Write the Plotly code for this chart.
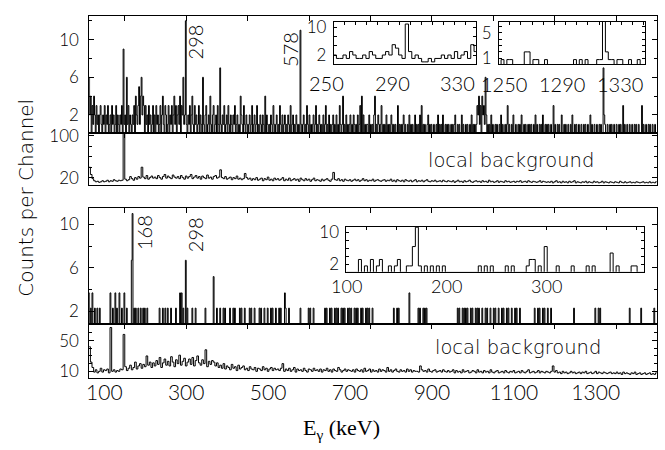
import numpy as np
import plotly.graph_objects as go

W, H = 665, 450
FONT = "Lato"
WORDS = "DejaVu Sans"
SERIF = "Liberation Serif"

# ---------------------------------------------------------------- data
# energy calibration (keV): spectra start energy and bin widths
MAIN_E0 = 62.0
FINE_BIN = 2.0      # singles and gated spectra
BG_BIN = 4.0        # local backgrounds
INS1_E0, INS1_BIN = 254.0, 2.0
INS2_E0, INS2_BIN = 1246.0, 2.0
INS3_E0, INS3_BIN = 100.0, 3.0

# singles spectrum, counts per 2 keV channel from 62 to 1450 keV
singles = [
    6, 2, 4, 0, 3, 1, 4, 2, 0, 3, 1, 2, 0, 2, 3, 1, 0, 2, 1, 3,
    0, 2, 1, 3, 0, 1, 2, 0, 3, 1, 2, 0, 1, 3, 0, 2, 1, 0, 2, 1,
    3, 0, 9, 1, 2, 0, 6, 1, 3, 0, 2, 1, 0, 2, 1, 3, 0, 4, 2, 1,
    3, 5, 1, 4, 6, 2, 4, 3, 0, 3, 1, 2, 0, 3, 1, 2, 0, 1, 3, 0,
    2, 0, 3, 1, 2, 0, 1, 3, 0, 2, 4, 1, 0, 3, 2, 0, 1, 3, 0, 2,
    1, 3, 0, 2, 4, 1, 3, 0, 2, 3, 1, 4, 0, 3, 2, 6, 1, 2, 12, 1,
    0, 2, 1, 3, 0, 2, 4, 1, 0, 3, 1, 2, 0, 1, 3, 0, 2, 1, 0, 6,
    1, 0, 2, 3, 0, 1, 2, 0, 4, 1, 0, 2, 3, 0, 1, 2, 0, 3, 1, 0,
    7, 1, 0, 2, 1, 3, 0, 1, 2, 0, 3, 1, 0, 2, 1, 0, 2, 1, 3, 0,
    1, 2, 0, 1, 0, 4, 2, 1, 0, 3, 1, 0, 2, 1, 0, 1, 2, 0, 1, 3,
    0, 1, 2, 0, 1, 3, 0, 1, 0, 2, 1, 0, 2, 1, 0, 4, 0, 2, 1, 0,
    1, 0, 2, 1, 0, 3, 1, 0, 1, 2, 0, 1, 0, 3, 1, 0, 2, 0, 1, 2,
    0, 1, 0, 2, 1, 0, 3, 0, 1, 2, 0, 1, 0, 2, 1, 0, 1, 0, 11, 1,
    0, 1, 2, 0, 1, 0, 3, 1, 0, 2, 0, 1, 0, 1, 2, 0, 1, 3, 0, 1,
    0, 2, 1, 0, 1, 0, 2, 0, 1, 3, 0, 1, 0, 2, 0, 1, 0, 1, 2, 0,
    1, 0, 2, 0, 1, 0, 3, 1, 0, 1, 4, 0, 1, 0, 2, 0, 1, 0, 1, 2,
    0, 1, 0, 2, 1, 0, 1, 0, 2, 0, 1, 3, 0, 4, 0, 2, 0, 1, 0, 1,
    1, 0, 2, 0, 1, 0, 1, 0, 2, 4, 0, 1, 0, 2, 1, 0, 1, 3, 0, 1,
    0, 1, 0, 2, 0, 1, 0, 1, 0, 2, 1, 0, 1, 0, 1, 0, 0, 3, 0, 1,
    0, 1, 0, 1, 2, 0, 1, 0, 0, 1, 0, 2, 0, 1, 0, 1, 0, 0, 2, 0,
    1, 0, 1, 0, 2, 0, 3, 0, 1, 0, 1, 0, 0, 1, 2, 0, 1, 0, 1, 0,
    0, 1, 0, 0, 1, 0, 2, 0, 1, 0, 1, 0, 2, 0, 0, 1, 0, 1, 0, 1,
    0, 0, 1, 0, 1, 0, 1, 2, 0, 0, 1, 0, 1, 0, 0, 2, 0, 1, 0, 0,
    1, 0, 1, 0, 0, 1, 0, 2, 0, 1, 0, 1, 0, 1, 3, 2, 4, 1, 3, 0,
    4, 2, 3, 1, 6, 2, 0, 1, 0, 1, 0, 2, 0, 1, 0, 0, 1, 0, 1, 0,
    0, 1, 0, 2, 0, 1, 0, 0, 1, 0, 1, 3, 0, 1, 0, 0, 1, 0, 2, 0,
    0, 1, 0, 0, 1, 0, 1, 0, 2, 0, 0, 1, 0, 1, 0, 0, 1, 0, 1, 0,
    1, 0, 0, 1, 0, 2, 0, 1, 0, 0, 1, 0, 1, 0, 2, 0, 0, 1, 0, 1,
    0, 1, 0, 0, 1, 0, 0, 3, 0, 1, 0, 0, 1, 0, 1, 0, 0, 2, 0, 0,
    1, 0, 1, 0, 0, 1, 0, 0, 1, 0, 2, 0, 0, 1, 0, 1, 0, 0, 1, 0,
    0, 1, 0, 0, 1, 0, 1, 0, 0, 1, 0, 0, 2, 0, 1, 0, 0, 1, 0, 0,
    1, 0, 0, 1, 0, 1, 0, 0, 7, 2, 1, 0, 0, 1, 0, 0, 1, 0, 1, 0,
    0, 1, 0, 0, 1, 0, 0, 1, 0, 1, 0, 0, 3, 0, 1, 0, 0, 1, 0, 0,
    1, 0, 0, 1, 0, 0, 1, 0, 1, 0, 0, 1, 0, 0, 0, 3, 0, 1, 0, 0,
    1, 0, 0, 1, 0, 1, 0, 0, 1, 0, 0, 1, 0, 0,
]

# gated spectrum: occupied 2 keV channels (start energy, keV) and their counts
gated_keV = [
    62, 66, 70, 76, 82, 88, 114, 120, 126, 130, 136,
    142, 148, 154, 166, 168, 172, 176, 182, 188, 194, 198, 204,
    234, 242, 248, 254, 262, 274, 284, 288, 292, 298,
    302, 314, 322, 346, 366, 374,
    382, 390, 394, 406, 414, 418, 430, 434, 442, 454, 458,
    466, 478, 482, 490, 498, 506, 510, 518, 526, 530, 540,
    542, 550, 578, 598, 602, 610,
    638, 642, 650, 654, 662, 666, 670, 678, 682, 686, 694, 698,
    702, 710, 714, 718, 726, 730, 738, 742, 746, 754,
    806, 814, 818, 844,
    866, 870, 878, 882, 886,
    962, 966, 974, 978, 982, 986, 994, 998, 1006, 1010, 1014,
    1022, 1030, 1034, 1042, 1050, 1054, 1062, 1070, 1074, 1082, 1086, 1094,
    1102, 1106, 1114, 1150, 1158, 1162, 1170, 1174,
    1182, 1190, 1246,
    1298, 1306, 1310,
    1382, 1410,
    1442,
]
gated_counts = [
    3.7, 2.3, 3.7, 2.3, 2.3, 2.3, 3.7, 2.3, 3.7, 2.3, 3.7,
    2.3, 3.7, 2.3, 6.7, 11.0, 2.3, 2.3, 2.3, 2.3, 2.3, 2.3, 2.3,
    2.3, 2.3, 2.3, 2.3, 2.3, 2.3, 3.7, 3.7, 2.3, 6.7,
    2.3, 2.3, 2.3, 2.3, 5.2, 2.3,
    2.3, 2.3, 2.3, 2.3, 2.3, 2.3, 2.3, 2.3, 2.3, 2.3, 2.3,
    2.3, 2.3, 2.3, 2.3, 2.3, 2.3, 2.3, 2.3, 2.3, 2.3, 3.7,
    2.3, 2.3, 2.3, 2.3, 2.3, 2.3,
    2.3, 2.3, 2.3, 2.3, 2.3, 2.3, 2.3, 2.3, 2.3, 2.3, 2.3, 2.3,
    2.3, 2.3, 2.3, 2.3, 2.3, 2.3, 2.3, 2.3, 2.3, 2.3,
    2.3, 2.3, 2.3, 3.7,
    2.3, 2.3, 2.3, 2.3, 2.3,
    2.3, 2.3, 2.3, 2.3, 2.3, 2.3, 2.3, 2.3, 2.3, 2.3, 2.3,
    2.3, 2.3, 2.3, 2.3, 2.3, 2.3, 2.3, 2.3, 2.3, 2.3, 2.3, 2.3,
    2.3, 2.3, 2.3, 2.3, 2.3, 2.3, 2.3, 2.3,
    2.3, 2.3, 2.3,
    2.3, 2.3, 2.3,
    2.3, 2.3,
    2.3,
]

# local background under the singles spectrum (per 4 keV)
singles_bg = [
    40, 26, 18, 14, 12, 13, 11, 12, 14, 12, 13, 15, 12, 14, 13, 16, 14, 13, 15, 14,
    15, 110, 17, 14, 16, 22, 18, 15, 20, 17, 22, 19, 40, 21, 18, 24, 17, 20, 23, 19,
    21, 18, 24, 20, 17, 22, 26, 19, 23, 20, 18, 25, 21, 19, 22, 18, 24, 20, 17, 23,
    19, 22, 26, 18, 21, 24, 19, 22, 17, 23, 20, 18, 25, 19, 21, 17, 22, 24, 19, 21,
    35, 20, 18, 22, 17, 19, 21, 16, 20, 18, 23, 17, 19, 16, 18, 28, 20, 17, 19, 15,
    18, 16, 20, 15, 17, 19, 14, 18, 16, 21, 15, 17, 14, 19, 16, 18, 15, 17, 20, 14,
    17, 15, 19, 14, 16, 18, 15, 17, 13, 19, 16, 14, 18, 15, 17, 13, 16, 19, 14, 16,
    15, 13, 17, 14, 16, 18, 15, 13, 17, 30, 16, 15, 18, 14, 16, 13, 17, 15, 14, 16,
    13, 15, 17, 14, 16, 13, 15, 18, 14, 16, 13, 15, 14, 17, 13, 15, 16, 14, 13, 15,
    16, 13, 15, 14, 17, 13, 15, 12, 16, 14, 13, 15, 12, 16, 14, 13, 15, 12, 14, 16,
    12, 14, 13, 15, 12, 14, 16, 13, 12, 14, 13, 15, 12, 13, 14, 12, 15, 13, 12, 14,
    13, 12, 14, 11, 13, 15, 12, 13, 11, 14, 12, 13, 15, 12, 11, 13, 14, 12, 13, 11,
    14, 12, 13, 11, 15, 12, 13, 11, 12, 14, 11, 13, 12, 11, 14, 12, 13, 11, 12, 13,
    11, 13, 12, 14, 11, 12, 13, 11, 14, 12, 11, 13, 12, 11, 12, 14, 11, 13, 12, 11,
    12, 11, 13, 10, 12, 14, 11, 12, 10, 13, 11, 12, 10, 13, 11, 12, 14, 10, 12, 11,
    10, 12, 11, 13, 10, 12, 11, 10, 13, 11, 12, 10, 11, 13, 10, 12, 11, 10, 12, 11,
    10, 12, 11, 10, 13, 11, 10, 12, 10, 11, 12, 10, 11, 10, 12, 11, 10, 11, 12, 10,
    11, 10, 12, 10, 11, 10, 12,
]

# local background under the gated spectrum (per 4 keV)
gated_bg = [
    42, 22, 15, 9, 12, 8, 10, 14, 9, 12, 11, 13, 8, 67, 10, 12, 9, 11, 10, 13,
    12, 58, 16, 11, 14, 18, 12, 15, 22, 13, 17, 20, 14, 19, 16, 30, 18, 22, 15, 21,
    17, 24, 19, 28, 15, 21, 26, 18, 23, 17, 29, 22, 16, 25, 20, 31, 18, 23, 27, 17,
    22, 26, 19, 28, 17, 24, 30, 21, 18, 25, 20, 38, 16, 23, 19, 24, 22, 17, 21, 15,
    18, 14, 20, 13, 17, 15, 12, 19, 14, 16, 11, 18, 13, 15, 17, 12, 14, 11, 16, 13,
    12, 15, 10, 14, 13, 11, 16, 12, 14, 10, 13, 15, 11, 14, 12, 13, 11, 14, 20, 10,
    13, 11, 14, 10, 12, 15, 9, 13, 11, 12, 10, 14, 11, 9, 13, 12, 10, 14, 11, 12,
    10, 13, 9, 12, 11, 14, 10, 12, 9, 13, 11, 10, 15, 12, 9, 11, 13, 10, 12, 11,
    10, 12, 9, 13, 11, 10, 12, 9, 14, 10, 11, 13, 9, 12, 10, 11, 9, 13, 10, 12,
    11, 9, 15, 10, 12, 9, 11, 13, 10, 9, 12, 10, 11, 9, 13, 10, 12, 9, 11, 10,
    10, 9, 17, 12, 10, 11, 9, 13, 10, 9, 11, 12, 9, 10, 11, 9, 12, 10, 9, 11,
    9, 10, 12, 8, 11, 9, 10, 8, 12, 9, 10, 11, 8, 9, 11, 10, 8, 12, 9, 10,
    8, 11, 9, 10, 8, 12, 9, 8, 10, 11, 8, 9, 10, 8, 11, 9, 8, 10, 9, 11,
    8, 9, 10, 8, 11, 9, 8, 10, 12, 8, 9, 10, 8, 9, 11, 8, 10, 9, 8, 10,
    9, 8, 10, 17, 9, 11, 8, 9, 7, 10, 8, 9, 7, 8, 10, 8, 9, 7, 8, 9,
    7, 9, 8, 10, 7, 8, 9, 7, 8, 10, 7, 9, 8, 7, 9, 8, 7, 8, 9, 7,
    8, 7, 9, 7, 8, 6, 9, 7, 8, 7, 6, 8, 7, 9, 6, 7, 8, 6, 7, 8,
    6, 7, 8, 6, 7, 6, 8,
]

# expanded views (2 keV bins around 298 keV and 1320 keV, 3 keV bins of the gate)
zoom_298 = [2, 1, 1, 2, 1, 3, 2, 1, 1, 2, 1, 3, 2, 1, 1, 2, 3, 2, 5, 4,
            2, 1, 11, 3, 1, 2, 1, 0, 0, 1, 0, 1, 1, 2, 1, 2, 1, 3, 1, 2,
            3, 1, 5, 3]
zoom_1320 = [0, 0.8, 0, 0.8, 0.8, 0, 0, 0, 0, 2, 2, 0, 0.8, 0.8, 0, 0, 0.8,
             0, 0, 0, 0, 0, 0, 0, 0, 0, 0.8, 0, 0.8, 0, 0.8, 0, 0, 0, 0.8,
             0.8, 7, 2, 0.8, 0.8, 0, 0.8, 0.8, 0, 0, 0.8, 0, 0, 0.8, 0, 0]
zoom_gate = [0, 0, 0, 0, 3.2, 0, 1.6, 0, 3.2, 0,
             1.6, 3.2, 0, 0, 1.6, 0, 1.6, 3.2, 0, 0,
             1.6, 1.6, 6.4, 11.2, 1.6, 0, 1.6, 0, 1.6, 0,
             1.6, 0, 1.6, 0, 0, 0, 0, 0, 0, 0,
             0, 0, 0, 0, 1.6, 0, 1.6, 0, 1.6, 0,
             0, 0, 0, 1.6, 0, 1.6, 0, 0, 0, 0,
             1.6, 3.2, 3.2, 0, 1.6, 0, 6.4, 0, 0, 0,
             1.6, 0, 0, 0, 0, 1.6, 0, 0, 0, 0,
             1.6, 0, 1.6, 0, 0, 0, 0, 0, 4.8, 0,
             1.6, 0, 0, 0, 0, 1.6, 1.6, 0, 0, 0]

peak_labels_top = [298, 578]
peak_labels_bottom = [168, 298]
x_tick_labels = [100, 300, 500, 700, 900, 1100, 1300]
ins1_labels = [250, 290, 330]
ins2_labels = [1250, 1290, 1330]
ins3_labels = [100, 200, 300]

# ---------------------------------------------------------------- geometry helpers
def px_x(p):
    return p / W

def px_y(p):
    return 1 - p / H

def xdom(a, b):
    return [px_x(a), px_x(b)]

def ydom(top, bottom):
    return [px_y(bottom), px_y(top)]

def on_axis(v, rng, dom):
    """paper x of value v on an axis with the given range and domain"""
    return dom[0] + (v - rng[0]) / (rng[1] - rng[0]) * (dom[1] - dom[0])


MAIN_X = xdom(86.7, 656.7)
MAIN_RANGE = [63.4, 1449.0]

I1_X, I1_Y = xdom(332.3, 475.0), ydom(14.0, 57.7)
I2_X, I2_Y = xdom(498.3, 645.0), ydom(14.0, 57.7)
I3_X, I3_Y = xdom(345.0, 644.0), ydom(225.0, 271.0)
I1_RANGE = [254.4, 341.1]
I2_RANGE = [1246.6, 1347.4]
I3_RANGE = [100.0, 398.0]

fig = go.Figure()


def add_steps(e0, width, counts, xa, ya):
    counts = list(counts)
    edges = e0 + width * np.arange(len(counts) + 1)
    fig.add_trace(go.Scatter(
        x=edges, y=counts + [counts[-1]], mode="lines",
        line=dict(shape="hv", color="black", width=1),
        xaxis=xa, yaxis=ya, hoverinfo="skip", showlegend=False))


gated = np.zeros(len(singles))
gated[((np.array(gated_keV) - MAIN_E0) / FINE_BIN).astype(int)] = gated_counts

add_steps(MAIN_E0, FINE_BIN, singles, "x", "y")
add_steps(MAIN_E0, BG_BIN, singles_bg, "x2", "y2")
add_steps(MAIN_E0, FINE_BIN, gated, "x3", "y3")
add_steps(MAIN_E0, BG_BIN, gated_bg, "x4", "y4")
add_steps(INS1_E0, INS1_BIN, zoom_298, "x5", "y5")
add_steps(INS2_E0, INS2_BIN, zoom_1320, "x6", "y6")
add_steps(INS3_E0, INS3_BIN, zoom_gate, "x7", "y7")
# empty carrier so the energy tick-label axis is drawn
fig.add_trace(go.Scatter(x=[None], y=[None], xaxis="x8", yaxis="y4",
                         mode="lines", showlegend=False, hoverinfo="skip"))


def x_frame(domain, rng, anchor, tick0, dtick, ticklen=5):
    return dict(domain=domain, range=rng, anchor=anchor, side="top",
                ticks="inside", tickmode="linear", tick0=tick0, dtick=dtick,
                ticklen=ticklen, tickwidth=1, tickcolor="black",
                showticklabels=False, showline=True, linecolor="black",
                linewidth=1, mirror=True, showgrid=False, zeroline=False)


def y_frame(domain, rng, anchor, tickvals, m0, mdt, size=17, standoff=6,
            ticklen=5, mlen=3):
    return dict(domain=domain, range=rng, anchor=anchor, ticks="inside",
                tickmode="array", tickvals=tickvals, ticklen=ticklen,
                tickwidth=1, tickcolor="black", showline=True,
                linecolor="black", linewidth=1, mirror="ticks",
                showgrid=False, zeroline=False,
                tickfont=dict(family=FONT, size=size, color="black", weight=300),
                ticklabelstandoff=standoff,
                minor=dict(tickmode="linear", tick0=m0, dtick=mdt,
                           ticks="inside", ticklen=mlen, tickwidth=1,
                           tickcolor="black", showgrid=False))


layout = dict(
    width=W, height=H, margin=dict(l=0, r=0, t=0, b=0),
    paper_bgcolor="white", plot_bgcolor="white", showlegend=False,
    font=dict(family=FONT, color="black", size=17),
    xaxis=x_frame(MAIN_X, MAIN_RANGE, "y", 0, 150),
    yaxis=y_frame(ydom(8.3, 128.3), [0.1, 12.5], "x", [2, 6, 10], 0, 2),
    xaxis2=x_frame(MAIN_X, MAIN_RANGE, "y2", 0, 150),
    yaxis2=y_frame(ydom(128.3, 181.7), [6.1, 106], "x2", [20, 100], 0, 20),
    xaxis3=x_frame(MAIN_X, MAIN_RANGE, "y3", 0, 150),
    yaxis3=y_frame(ydom(205.0, 325.0), [0.81, 11.55], "x3", [2, 6, 10], 0, 2),
    xaxis4=x_frame(MAIN_X, MAIN_RANGE, "y4", 0, 150),
    yaxis4=y_frame(ydom(325.0, 380.0), [1.5, 71.1], "x4", [10, 50], 0, 10),
    xaxis5=x_frame(I1_X, I1_RANGE, "y5", 261.1, 6.68, ticklen=3),
    yaxis5=y_frame(I1_Y, [-0.66, 11.7], "x5", [2, 10], 2, 8 / 3,
                   standoff=3, ticklen=3),
    xaxis6=x_frame(I2_X, I2_RANGE, "y6", 1254, 7.7, ticklen=3),
    yaxis6=y_frame(I2_Y, [0.09, 6.71], "x6", [1, 5], 0, 1,
                   standoff=3, ticklen=3),
    xaxis7=x_frame(I3_X, I3_RANGE, "y7", 0, 30, ticklen=3),
    yaxis7=y_frame(I3_Y, [0.15, 11.25], "x7", [2, 10], 0, 2,
                   standoff=3, ticklen=3),
    xaxis8=dict(overlaying="x4", anchor="y4", side="bottom",
                range=MAIN_RANGE, tickmode="array", tickvals=x_tick_labels,
                ticks="", showline=False, showgrid=False, zeroline=False,
                ticklabelstandoff=0,
                tickfont=dict(family=FONT, size=21, color="black", weight=300)),
)
fig.update_layout(**layout)

ann = []


def text(x, y, s, size, xref="paper", angle=0, family=FONT, xshift=0, weight=300):
    ann.append(dict(x=x, y=y, xref=xref, yref="paper", text=s,
                    showarrow=False, textangle=angle, xshift=xshift,
                    xanchor="center", yanchor="middle",
                    font=dict(family=family, size=size, color="black",
                              weight=weight)))


# energies of the marked peaks
text(peak_labels_top[0], px_y(35), str(peak_labels_top[0]), 20, "x", -90, xshift=10)
text(peak_labels_top[1], px_y(43), str(peak_labels_top[1]), 20, "x", -90, xshift=-10)
text(peak_labels_bottom[0], px_y(231), str(peak_labels_bottom[0]), 20, "x3", -90, xshift=12)
text(peak_labels_bottom[1], px_y(233), str(peak_labels_bottom[1]), 20, "x3", -90, xshift=9)

# energy labels of the expanded views
for v in ins1_labels:
    text(on_axis(v, I1_RANGE, I1_X), px_y(77), str(v), 20)
for v in ins2_labels:
    text(on_axis(v, I2_RANGE, I2_X), px_y(78), str(v), 20)
for v in ins3_labels:
    text(on_axis(v, I3_RANGE, I3_X), px_y(286), str(v), 18)

text(px_x(510), px_y(157), "local background", 19.5, family=WORDS, weight=200)
text(px_x(517), px_y(349), "local background", 19.5, family=WORDS, weight=200)
text(px_x(23), px_y(195), "Counts per Channel", 20, angle=-90, family=WORDS, weight=200)
text(px_x(340), px_y(433), "E<sub>γ</sub> (keV)", 22, family=SERIF, weight=400)

fig.update_layout(annotations=ann)
fig.write_html("out.html")
